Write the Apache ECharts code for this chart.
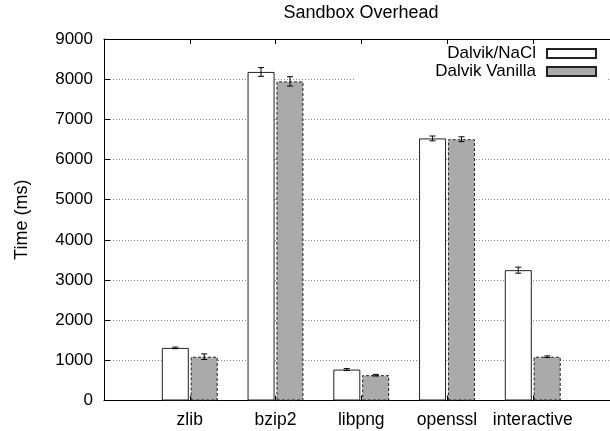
<!DOCTYPE html>
<html>
<head>
<meta charset="utf-8">
<script src="https://cdn.jsdelivr.net/npm/echarts@6/dist/echarts.min.js"></script>
<style>
html,body{margin:0;padding:0;background:#fff;}
#chart{width:610px;height:431px;}
</style>
</head>
<body>
<div id="chart"></div>
<script>
const categories = ['', 'zlib', 'bzip2', 'libpng', 'openssl', 'interactive', ''];
const naclValues = ['-', 1310, 8180, 770, 6525, 3245, '-'];
const vanillaValues = ['-', 1090, 7945, 630, 6505, 1090, '-'];
const naclErr = [0, 20, 108, 25, 60, 75, 0];
const vanillaErr = [0, 70, 116, 20, 60, 20, 0];
const yTicks = [0, 1000, 2000, 3000, 4000, 5000, 6000, 7000, 8000, 9000];

const FONT = 'Liberation Sans';
const chart = echarts.init(document.getElementById('chart'));

function errData(vals, errs) {
  const out = [];
  vals.forEach((v, i) => { if (v !== '-') out.push([i, v, errs[i]]); });
  return out;
}
function errRender(off) {
  return function (params, api) {
    const x = api.value(0), y = api.value(1), e = api.value(2);
    const t = api.coord([x, y + e]);
    const b = api.coord([x, y - e]);
    const cx = t[0] + off;
    const st = {stroke: '#000', lineWidth: 1};
    return {
      type: 'group',
      children: [
        {type: 'line', shape: {x1: cx, y1: t[1], x2: cx, y2: b[1]}, style: st},
        {type: 'line', shape: {x1: cx - 3, y1: t[1], x2: cx + 3, y2: t[1]}, style: st},
        {type: 'line', shape: {x1: cx - 3, y1: b[1], x2: cx + 3, y2: b[1]}, style: st}
      ]
    };
  };
}

const option = {
  animation: false,
  backgroundColor: '#fff',
  textStyle: {fontFamily: FONT},
  title: {
    text: 'Sandbox Overhead',
    left: 361, top: 4, padding: 0, textAlign: 'center',
    textStyle: {fontFamily: FONT, fontSize: 18, fontWeight: 'normal', color: '#000'}
  },
  legend: {
    orient: 'vertical',
    right: 2, top: 45,
    align: 'right',
    icon: 'rect',
    itemWidth: 49, itemHeight: 9, itemGap: 1,
    padding: [0, 11, 4, 80],
    backgroundColor: '#fff',
    textStyle: {fontFamily: FONT, fontSize: 17, color: '#000', lineHeight: 17, padding: [0, 6, 0, 0]},
    data: ['Dalvik/NaCl', 'Dalvik Vanilla']
  },
  grid: {left: 104, right: -8.5, top: 39, bottom: 30.5, containLabel: false, outerBoundsMode: 'none'},
  xAxis: [{
    type: 'category', data: categories, boundaryGap: false, position: 'bottom',
    axisLine: {lineStyle: {color: '#000', width: 1}},
    axisTick: {show: true, inside: true, length: 5, interval: 0, lineStyle: {color: '#000'}},
    axisLabel: {interval: 0, margin: 11, fontFamily: FONT, fontSize: 17.5, color: '#000'},
    splitLine: {show: false}
  }, {
    type: 'category', data: categories, boundaryGap: false, position: 'top',
    axisLine: {lineStyle: {color: '#000', width: 1}},
    axisTick: {show: true, inside: true, length: 5, interval: 0, lineStyle: {color: '#000'}},
    axisLabel: {show: false},
    splitLine: {show: false}
  }],
  yAxis: {
    type: 'value', min: 0, max: 9000, interval: 1000,
    name: 'Time (ms)', nameLocation: 'middle', nameGap: 73,
    nameTextStyle: {fontFamily: FONT, fontSize: 18, color: '#000'},
    axisLine: {show: true, lineStyle: {color: '#000', width: 1}},
    axisTick: {show: true, inside: true, length: 6, lineStyle: {color: '#000'}},
    axisLabel: {margin: 11, fontFamily: FONT, fontSize: 17, color: '#000',
      formatter: v => (yTicks.indexOf(v) >= 0 ? String(v) : '')},
    splitLine: {show: true, lineStyle: {color: '#888', width: 1, type: [1, 2]}}
  },
  series: [{
    name: 'Dalvik/NaCl', type: 'bar', data: naclValues,
    barWidth: 27, barGap: '7%',
    itemStyle: {color: '#fff', borderColor: '#222', borderWidth: 1}
  }, {
    name: 'Dalvik Vanilla', type: 'bar', data: vanillaValues,
    barWidth: 27, barGap: '7%',
    itemStyle: {color: '#aaaaaa', borderColor: '#222', borderWidth: 1, borderType: [3, 2]}
  }, {
    type: 'custom', data: errData(naclValues, naclErr), z: 5,
    renderItem: errRender(-14.5), silent: true
  }, {
    type: 'custom', data: errData(vanillaValues, vanillaErr), z: 5,
    renderItem: errRender(14.5), silent: true
  }]
};
chart.setOption(option);
</script>
</body>
</html>
